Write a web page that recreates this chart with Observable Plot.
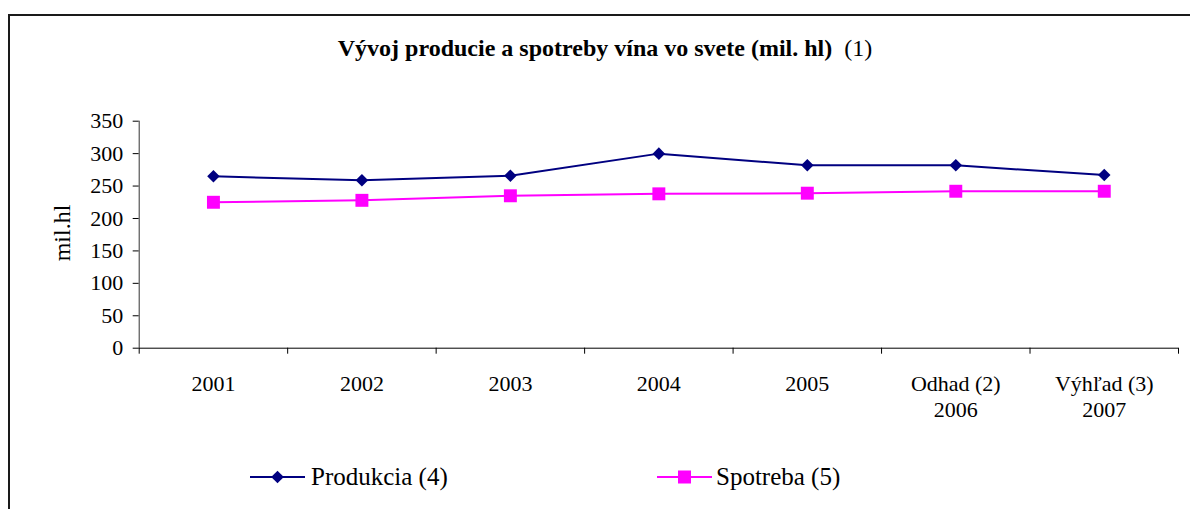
<!DOCTYPE html>
<html>
<head>
<meta charset="utf-8">
<script src="https://cdn.jsdelivr.net/npm/d3@7"></script>
<script src="https://cdn.jsdelivr.net/npm/@observablehq/plot@0.6"></script>
<style>
  html, body { margin: 0; padding: 0; background: #fff; }
  #wrap { position: relative; width: 1190px; height: 509px; overflow: hidden; background: #fff; font-family: "Liberation Serif", "Times New Roman", serif; }
  #frame { position: absolute; left: 8px; top: 14px; width: 1400px; height: 700px; border-left: 2px solid #1a1a1a; border-top: 2px solid #1a1a1a; }
  #title { position: absolute; left: 20px; width: 1170px; top: 36px; text-align: center; font-size: 24px; line-height: 24px; white-space: pre; }
  #ylabel { position: absolute; left: 62px; top: 233px; font-size: 24px; line-height: 24px; transform: translate(-50%, -50%) rotate(-90deg); white-space: nowrap; }
  #chart { position: absolute; left: 0; top: 0; }
  #legend { position: absolute; left: 0; top: 440px; }
</style>
</head>
<body>
<div id="wrap">
  <div id="frame"></div>
  <div id="title"><b>Vývoj producie a spotreby vína vo svete (mil. hl)</b>  (1)</div>
  <div id="chart"></div>
  <div id="ylabel">mil.hl</div>
  <svg id="legend" width="1190" height="69"></svg>
</div>
<script>
const categories = ["2001", "2002", "2003", "2004", "2005", "Odhad (2)\n2006", "Výhľad (3)\n2007"];
const produkcia = [265, 259, 266, 300, 282, 282, 267];
const spotreba = [225, 228, 235, 238, 239, 242, 242];
const yTicks = [0, 50, 100, 150, 200, 250, 300, 350];
const seriesNames = ["Produkcia (4)", "Spotreba (5)"];
const navy = "#000080", magenta = "#FF00FF";

const rowsP = categories.map((c, i) => ({i: i + 0.5, v: produkcia[i]}));
const rowsS = categories.map((c, i) => ({i: i + 0.5, v: spotreba[i]}));
const boundaries = d3.range(0, categories.length + 1);
const centers = categories.map((c, i) => i + 0.5);

const chart = Plot.plot({
  width: 1190,
  height: 509,
  marginTop: 120.7,
  marginBottom: 161.3,
  marginLeft: 138.7,
  marginRight: 12,
  style: {background: "transparent", fontFamily: "'Liberation Serif', 'Times New Roman', serif", fontSize: "22px", color: "#000"},
  x: {domain: [0, categories.length], axis: null},
  y: {domain: [0, 350], axis: null},
  marks: [
    Plot.axisY(yTicks, {anchor: "left", tickSize: 6, tickPadding: 10, fontSize: 22, label: null, stroke: "#000"}),
    Plot.axisX(boundaries, {anchor: "bottom", tickSize: 6, tickFormat: () => "", label: null, stroke: "#000"}),
    Plot.axisX(centers, {anchor: "bottom", tickSize: 0, tickPadding: 24, fontSize: 22, lineHeight: 1.2, label: null,
      tickFormat: d => categories[Math.floor(d)]}),
    Plot.ruleX([0], {stroke: "#333", strokeWidth: 1}),
    Plot.ruleY([0], {stroke: "#000", strokeWidth: 1}),
    Plot.line(rowsP, {x: "i", y: "v", stroke: navy, strokeWidth: 2}),
    Plot.line(rowsS, {x: "i", y: "v", stroke: magenta, strokeWidth: 2}),
    Plot.dot(rowsP, {x: "i", y: "v", symbol: "square", rotate: 45, r: 5, fill: navy, stroke: "none"}),
    Plot.dot(rowsS, {x: "i", y: "v", symbol: "square", r: 7.3, fill: magenta, stroke: "none"})
  ]
});
document.getElementById("chart").appendChild(chart);

// legend
const leg = d3.select("#legend");
const items = [
  {name: seriesNames[0], color: navy, x0: 250, x1: 305, sym: "diamond", tx: 311},
  {name: seriesNames[1], color: magenta, x0: 657, x1: 712, sym: "square", tx: 716}
];
const ly = 37;
items.forEach(it => {
  leg.append("line").attr("x1", it.x0).attr("x2", it.x1).attr("y1", ly).attr("y2", ly)
    .attr("stroke", it.color).attr("stroke-width", 2);
  const cx = (it.x0 + it.x1) / 2;
  if (it.sym === "diamond") {
    leg.append("path").attr("d", `M${cx},${ly-6.3}L${cx+6.3},${ly}L${cx},${ly+6.3}L${cx-6.3},${ly}Z`).attr("fill", it.color);
  } else {
    leg.append("rect").attr("x", cx - 6.5).attr("y", ly - 6.5).attr("width", 13).attr("height", 13).attr("fill", it.color);
  }
  leg.append("text").attr("x", it.tx).attr("y", ly + 8).text(it.name)
    .attr("font-family", "'Liberation Serif', 'Times New Roman', serif").attr("font-size", 25).attr("fill", "#000");
});
</script>
</body>
</html>
